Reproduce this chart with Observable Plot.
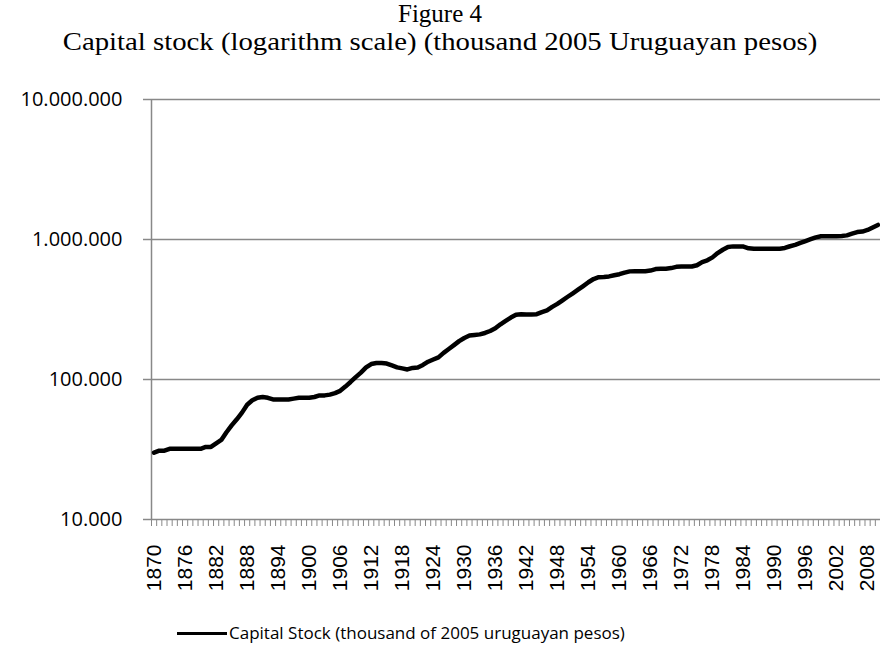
<!DOCTYPE html>
<html><head><meta charset="utf-8">
<script src="https://cdn.jsdelivr.net/npm/d3@7"></script>
<script src="https://cdn.jsdelivr.net/npm/@observablehq/plot@0.6"></script>
<style>
body{margin:0;background:#fff;width:880px;overflow:hidden}
#title{font-family:"Liberation Serif","Times New Roman",serif;font-size:25px;text-align:center;line-height:28px;height:64px;padding-top:0;box-sizing:border-box;color:#000}
#title .l2{display:inline-block;transform:scaleX(1.15);transform-origin:center;white-space:nowrap}
#legend{font-family:"Open Sans",sans-serif;font-size:17px;height:46px;box-sizing:border-box;padding-top:18px;padding-left:177px;line-height:20px;color:#000;white-space:nowrap}
#legend .sw{display:inline-block;width:50px;height:3px;background:#000;vertical-align:middle;margin-right:2px;position:relative;top:-1px}
</style>
</head><body>
<div id="title">Figure 4<br><span class="l2">Capital stock (logarithm scale) (thousand 2005 Uruguayan pesos)</span></div>
<div id="chart"></div>
<div id="legend"><span class="sw"></span>Capital Stock (thousand of 2005 uruguayan pesos)</div>
<script>
const firstYear = 1870;
const capitalStock = [
  30000, 31000, 31000, 32000, 32000, 32000, 32000, 32000, 32000, 32000, // 1870-1879
  33000, 33000, 35000, 37000, 42000, 47000, 52000, 58000, 66000, 71000, // 1880-1889
  74000, 75000, 74000, 72000, 72000, 72000, 72000, 73000, 74000, 74000, // 1890-1899
  74000, 75000, 77000, 77000, 78000, 80000, 83000, 89000, 96000, 104000, // 1900-1909
  112000, 122000, 129000, 131000, 131000, 130000, 126000, 122000, 120000, 118000, // 1910-1919
  121000, 122000, 127000, 134000, 139000, 144000, 155000, 165000, 176000, 188000, // 1920-1929
  198000, 206000, 208000, 210000, 215000, 222000, 232000, 248000, 262000, 277000, // 1930-1939
  290000, 292000, 291000, 291000, 293000, 303000, 312000, 330000, 347000, 368000, // 1940-1949
  390000, 413000, 438000, 465000, 495000, 522000, 538000, 540000, 545000, 555000, // 1950-1959
  565000, 580000, 592000, 594000, 594000, 594000, 600000, 615000, 618000, 618000, // 1960-1969
  625000, 638000, 641000, 641000, 641000, 655000, 690000, 710000, 745000, 800000, // 1970-1979
  845000, 885000, 893000, 893000, 890000, 865000, 858000, 858000, 858000, 858000, // 1980-1989
  858000, 860000, 870000, 895000, 915000, 945000, 975000, 1005000, 1035000, 1055000, // 1990-1999
  1055000, 1055000, 1055000, 1060000, 1070000, 1100000, 1130000, 1140000, 1170000, 1220000, // 2000-2009
  1270000 // 2010
];
const xTickLabels = [1870, 1876, 1882, 1888, 1894, 1900, 1906, 1912, 1918, 1924, 1930, 1936, 1942, 1948, 1954, 1960, 1966, 1972, 1978, 1984, 1990, 1996, 2002, 2008];
const yTicks = [10000, 100000, 1000000, 10000000];
const yTickLabels = ["10.000", "100.000", "1.000.000", "10.000.000"];

const data = capitalStock.map((v, i) => ({year: firstYear + i, value: v}));
const years = data.map(d => d.year);
const boundaries = years.map(y => y - 0.5).concat([years[years.length - 1] + 0.5]);
const yLabel = new Map(yTicks.map((t, i) => [t, yTickLabels[i]]));

const chart = Plot.plot({
  width: 880, height: 541,
  marginTop: 35, marginBottom: 86, marginLeft: 151, marginRight: 0,
  x: {type: "linear", domain: [boundaries[0], boundaries[boundaries.length - 1]]},
  y: {type: "log", domain: [yTicks[0], yTicks[yTicks.length - 1]]},
  style: {background: "#fff"},
  marks: [
    Plot.gridY(yTicks, {stroke: "#888", strokeOpacity: 1, strokeWidth: 1.5}),
    Plot.ruleX([boundaries[0]], {stroke: "#888", strokeWidth: 1.5}),
    Plot.axisY(yTicks, {tickSize: 8, tickPadding: 21, stroke: "#888", strokeWidth: 1.5, strokeOpacity: 1,
      tickFormat: d => yLabel.get(d), fontSize: 20, fontFamily: "Open Sans", fill: "#000", label: null}),
    Plot.axisX(boundaries, {tickSize: 7, stroke: "#888", strokeOpacity: 1, tickFormat: () => "", label: null}),
    Plot.axisX(xTickLabels, {tickSize: 0, tickPadding: 25, tickRotate: -90, tickFormat: d => String(d),
      fontSize: 21, fontFamily: "Liberation Sans", fill: "#000", label: null}),
    Plot.line(data, {x: "year", y: "value", stroke: "#000", strokeWidth: 4.5, strokeLinejoin: "round", strokeLinecap: "round"})
  ]
});
document.getElementById("chart").appendChild(chart);
</script>
</body></html>
